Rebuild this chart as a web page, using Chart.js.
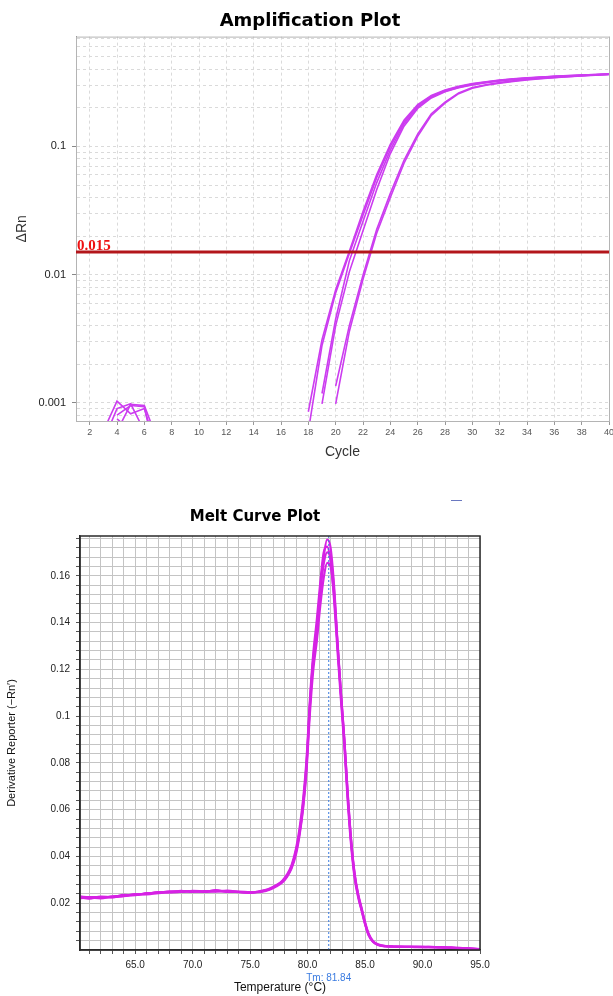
<!DOCTYPE html>
<html>
<head>
<meta charset="utf-8">
<title>Amplification / Melt Curve</title>
<script src="https://cdn.jsdelivr.net/npm/chart.js@4.4.0/dist/chart.umd.min.js"></script>
<style>
  html, body { margin: 0; background: #fff; overflow: hidden; }
  body { width: 613px; height: 996px; position: relative; }
  #ampBox { position: absolute; left: 0; top: 0; width: 620px; height: 470px; }
  #meltBox { position: absolute; left: 0; top: 496px; width: 510px; height: 500px; }
  #mark { position: absolute; left: 451px; top: 500px; width: 11px; height: 1px; background: #6a78c0; }
</style>
</head>
<body>
<div id="ampBox"><canvas id="amp" width="620" height="470"></canvas></div>
<div id="meltBox"><canvas id="melt" width="510" height="500"></canvas></div>
<div id="mark"></div>
<script>
// ---- Amplification plot data (delta Rn per cycle, null = not plotted) ----
var cycles = [1, 2, 3, 4, 5, 6, 7, 8, 9, 10, 11, 12, 13, 14, 15, 16, 17, 18, 19, 20,
              21, 22, 23, 24, 25, 26, 27, 28, 29, 30, 31, 32, 33, 34, 35, 36, 37, 38, 39, 40];
var cycleTicks = [2, 4, 6, 8, 10, 12, 14, 16, 18, 20, 22, 24, 26, 28, 30, 32, 34, 36, 38, 40];

var wellA1 = [null, null, 0.0006, 0.00103, 0.00082, 0.0009, 0.0004, null, null, null,
              null, null, null, null, null, null, null, 0.00085, 0.0031, 0.0076,
              0.0152, 0.031, 0.060, 0.104, 0.160, 0.212, 0.250, 0.276, 0.295, 0.310,
              0.320, 0.330, 0.337, 0.343, 0.348, 0.353, 0.357, 0.361, 0.364, 0.368];
var wellA2 = [null, null, null, 0.0006, 0.00097, 0.00095, 0.0005, null, null, null,
              null, null, null, null, null, null, null, 0.0006, 0.0028, 0.0072,
              0.0146, 0.029, 0.057, 0.100, 0.155, 0.208, 0.247, 0.273, 0.292, 0.307,
              0.318, 0.328, 0.336, 0.342, 0.347, 0.352, 0.356, 0.360, 0.364, 0.369];
var wellB1 = [null, null, 0.0005, 0.0009, 0.00098, 0.0006, null, null, null, null,
              null, null, null, null, null, null, null, null, 0.00118, 0.0045,
              0.0128, 0.026, 0.052, 0.094, 0.150, 0.203, 0.243, 0.270, 0.289, 0.304,
              0.316, 0.326, 0.334, 0.340, 0.346, 0.351, 0.355, 0.359, 0.363, 0.367];
var wellB2 = [null, null, null, 0.0008, 0.00095, 0.00093, 0.0003, null, null, null,
              null, null, null, null, null, null, null, null, 0.00098, 0.0040,
              0.0105, 0.022, 0.046, 0.088, 0.144, 0.198, 0.239, 0.267, 0.287, 0.302,
              0.315, 0.325, 0.333, 0.339, 0.345, 0.350, 0.354, 0.358, 0.362, 0.366];
var wellC1 = [null, null, null, 0.00075, 0.0006, null, null, null, null, null,
              null, null, null, null, null, null, null, null, null, 0.00098,
              0.0036, 0.0092, 0.021, 0.040, 0.074, 0.120, 0.175, 0.218, 0.258, 0.285,
              0.300, 0.312, 0.322, 0.331, 0.338, 0.344, 0.350, 0.355, 0.360, 0.364];
var wellC2 = [null, null, null, null, null, null, null, null, null, null,
              null, null, null, null, null, null, null, null, null, 0.00135,
              0.0040, 0.0099, 0.0225, 0.043, 0.078, 0.125, 0.180, 0.222, 0.262, 0.289,
              0.303, 0.315, 0.325, 0.333, 0.340, 0.346, 0.351, 0.356, 0.361, 0.365];
var ampWells = [wellA1, wellA2, wellB1, wellB2, wellC1, wellC2];
var threshold = 0.015;
var ampMin = 0.00072, ampMax = 0.72;

// ---- Melt curve data ----
var meltTemps = [60.2, 61, 62, 63, 64, 65, 66, 67, 68, 69, 70, 71, 72, 73, 74, 75,
                 75.7, 76.3, 76.8, 77.3, 77.8, 78.2, 78.6, 79.0, 79.3, 79.6, 79.9, 80.2, 80.5, 80.8,
                 81.1, 81.4, 81.7, 82.0, 82.3, 82.6, 82.9, 83.2, 83.5, 83.8, 84.1, 84.4, 84.7, 85.0,
                 85.3, 85.7, 86.2, 86.8, 87.5, 88.5, 89.5, 90.5, 91.5, 92.5, 93.5, 94.3, 95.0];
var melt1 = [0.0226, 0.0222, 0.0224, 0.0227, 0.0233, 0.0236, 0.0241, 0.0246, 0.0249, 0.0251, 0.0250, 0.0249, 0.0254, 0.0251, 0.0247, 0.0246,
             0.0248, 0.0254, 0.0262, 0.0275, 0.0292, 0.0315, 0.0352, 0.0420, 0.0500, 0.0610, 0.0780, 0.1040, 0.1240, 0.1340,
             0.1540, 0.1680, 0.1755, 0.1720, 0.1560, 0.1320, 0.1100, 0.0900, 0.0660, 0.0460, 0.0320, 0.0235, 0.0175, 0.0115,
             0.0068, 0.0036, 0.0021, 0.0016, 0.0014, 0.0013, 0.0013, 0.0012, 0.0011, 0.0009, 0.0007, 0.0005, 0.0004];
var melt2 = [0.0222, 0.0225, 0.0221, 0.0229, 0.0231, 0.0239, 0.0238, 0.0244, 0.0251, 0.0248, 0.0253, 0.0251, 0.0250, 0.0254, 0.0249, 0.0244,
             0.0250, 0.0256, 0.0265, 0.0278, 0.0296, 0.0322, 0.0362, 0.0435, 0.0520, 0.0640, 0.0810, 0.1070, 0.1270, 0.1410,
             0.1570, 0.1700, 0.1725, 0.1660, 0.1500, 0.1280, 0.1070, 0.0870, 0.0630, 0.0440, 0.0305, 0.0225, 0.0168, 0.0110,
             0.0064, 0.0034, 0.0020, 0.0015, 0.0014, 0.0014, 0.0012, 0.0013, 0.0012, 0.0010, 0.0008, 0.0006, 0.0004];
var melt3 = [0.0229, 0.0226, 0.0226, 0.0225, 0.0236, 0.0234, 0.0243, 0.0243, 0.0247, 0.0253, 0.0248, 0.0252, 0.0252, 0.0248, 0.0250, 0.0247,
             0.0247, 0.0252, 0.0260, 0.0272, 0.0289, 0.0312, 0.0348, 0.0410, 0.0490, 0.0600, 0.0760, 0.1010, 0.1200, 0.1320,
             0.1470, 0.1590, 0.1655, 0.1640, 0.1520, 0.1310, 0.1100, 0.0900, 0.0665, 0.0465, 0.0325, 0.0240, 0.0180, 0.0120,
             0.0072, 0.0038, 0.0023, 0.0017, 0.0015, 0.0013, 0.0014, 0.0012, 0.0012, 0.0010, 0.0007, 0.0006, 0.0003];
var melt4 = [0.0224, 0.0220, 0.0228, 0.0226, 0.0230, 0.0237, 0.0240, 0.0248, 0.0246, 0.0249, 0.0252, 0.0248, 0.0256, 0.0249, 0.0248, 0.0245,
             0.0249, 0.0255, 0.0263, 0.0276, 0.0294, 0.0318, 0.0356, 0.0425, 0.0505, 0.0620, 0.0790, 0.1050, 0.1250, 0.1380,
             0.1530, 0.1650, 0.1700, 0.1680, 0.1540, 0.1310, 0.1090, 0.0890, 0.0650, 0.0455, 0.0315, 0.0232, 0.0172, 0.0112,
             0.0066, 0.0035, 0.0021, 0.0016, 0.0015, 0.0014, 0.0013, 0.0013, 0.0011, 0.0010, 0.0008, 0.0005, 0.0004];
var meltWells = [melt1, melt2, melt3, melt4];
var tmValue = 81.84;
var meltYMax = 0.177;

var ampColor = 'rgb(204, 60, 240)';
var meltColor = 'rgb(214, 34, 228)';

function isDecade(v) {
    var l = Math.log10(v);
    return Math.abs(l - Math.round(l)) < 1e-9;
}

// empty right-hand axis, only used to keep space on the right
function spacerAxis(w) {
    return {
        position: 'right',
        display: true,
        afterFit: function(scale) { scale.width = w; },
        grid: { display: false, drawTicks: false },
        ticks: { display: false },
        border: { display: false }
    };
}

// draws the grey box round the plot area and the threshold value
var ampExtras = {
    id: 'ampExtras',
    beforeDatasetsDraw: function(chart) {
        var a = chart.chartArea, ctx = chart.ctx;
        ctx.save();
        ctx.strokeStyle = '#b4b4b4';
        ctx.lineWidth = 1;
        ctx.strokeRect(a.left + 0.5, a.top + 0.5, a.right - a.left, a.bottom - a.top);
        ctx.restore();
    },
    afterDatasetsDraw: function(chart) {
        var ctx = chart.ctx;
        var y = chart.scales.y.getPixelForValue(threshold);
        ctx.save();
        ctx.fillStyle = '#ee1111';
        ctx.font = 'bold 15px "Liberation Serif"';
        ctx.textBaseline = 'alphabetic';
        ctx.fillText(threshold.toString(), chart.chartArea.left + 1, y - 2);
        ctx.restore();
    }
};

var meltExtras = {
    id: 'meltExtras',
    afterDraw: function(chart) {
        var a = chart.chartArea, ctx = chart.ctx;
        ctx.save();
        ctx.strokeStyle = '#2a2a2a';
        ctx.lineWidth = 1.5;
        ctx.strokeRect(a.left, a.top, a.right - a.left, a.bottom - a.top);
        var x = chart.scales.x.getPixelForValue(tmValue);
        ctx.fillStyle = '#3a7be0';
        ctx.font = '10px "Liberation Sans"';
        ctx.textAlign = 'center';
        ctx.textBaseline = 'middle';
        ctx.fillText('Tm: ' + tmValue.toFixed(2), x, 482);
        ctx.restore();
    }
};

// ---- Amplification chart ----
var ampSets = [{
    data: [{x: cycles[0], y: threshold}, {x: cycles[cycles.length - 1], y: threshold}],
    borderColor: '#b3161b',
    borderWidth: 3,
    pointRadius: 0
}];
ampWells.forEach(function(w) {
    ampSets.push({
        data: cycles.map(function(c, i) { return {x: c, y: w[i]}; }),
        borderColor: ampColor,
        borderWidth: 1.6,
        pointRadius: 0,
        tension: 0
    });
});

new Chart(document.getElementById('amp').getContext('2d'), {
    type: 'line',
    data: { datasets: ampSets },
    plugins: [ampExtras],
    options: {
        responsive: false,
        animation: false,
        layout: { padding: 0 },
        plugins: {
            legend: { display: false },
            tooltip: { enabled: false },
            title: {
                display: true,
                text: 'Amplification Plot',
                color: '#000',
                font: { family: 'DejaVu Sans', size: 18, weight: 'bold' },
                padding: { top: 11, bottom: 4 }
            }
        },
        scales: {
            x: {
                type: 'linear',
                min: 1,
                max: 40,
                afterBuildTicks: function(scale) {
                    scale.ticks = cycleTicks.map(function(v) { return {value: v}; });
                },
                afterFit: function(scale) { scale.height = 49; },
                ticks: {
                    autoSkip: false,
                    maxRotation: 0,
                    padding: 2,
                    color: '#555',
                    font: { family: 'Liberation Sans', size: 9 }
                },
                grid: { color: '#dadada', tickLength: 4, tickColor: '#999' },
                border: { color: '#8a8a8a', dash: [3, 3] },
                title: {
                    display: true,
                    text: 'Cycle',
                    color: '#333',
                    font: { family: 'Liberation Sans', size: 14 },
                    padding: { top: 0, bottom: 9 }
                }
            },
            y: {
                type: 'logarithmic',
                min: ampMin,
                max: ampMax,
                afterBuildTicks: function(scale) {
                    var t = [];
                    for (var e = -4; e <= -1; e++) {
                        for (var s = 1; s <= 9; s++) {
                            var v = parseFloat((s * Math.pow(10, e)).toPrecision(3));
                            if (v >= ampMin && v <= ampMax) t.push({value: v});
                        }
                    }
                    scale.ticks = t;
                },
                afterFit: function(scale) { scale.width = 76; },
                ticks: {
                    autoSkip: false,
                    padding: 6,
                    color: '#222',
                    font: { family: 'Liberation Sans', size: 11 },
                    callback: function(v) { return isDecade(v) ? v.toString() : ''; }
                },
                grid: {
                    color: '#dadada',
                    tickLength: 4,
                    tickColor: function(ctx) { return ctx.tick && isDecade(ctx.tick.value) ? '#888' : 'rgba(0,0,0,0)'; }
                },
                border: { color: '#8a8a8a', dash: [3, 3] },
                title: {
                    display: true,
                    text: 'ΔRn',
                    color: '#333',
                    font: { family: 'Liberation Sans', size: 14 },
                    padding: { top: 14, bottom: 0 }
                }
            },
            yRight: spacerAxis(11)
        }
    }
});

// ---- Melt curve chart ----
var meltSets = [{
    data: [{x: tmValue, y: 0}, {x: tmValue, y: meltYMax}],
    borderColor: '#3a7be0',
    borderWidth: 1,
    borderDash: [2, 2],
    pointRadius: 0
}];
meltWells.forEach(function(w) {
    meltSets.push({
        data: meltTemps.map(function(t, i) { return {x: t, y: w[i]}; }),
        borderColor: meltColor,
        borderWidth: 2.2,
        pointRadius: 0,
        cubicInterpolationMode: 'monotone'
    });
});

new Chart(document.getElementById('melt').getContext('2d'), {
    type: 'line',
    data: { datasets: meltSets },
    plugins: [meltExtras],
    options: {
        responsive: false,
        animation: false,
        layout: { padding: 0 },
        plugins: {
            legend: { display: false },
            tooltip: { enabled: false },
            title: {
                display: true,
                text: 'Melt Curve Plot',
                color: '#000',
                font: { family: 'DejaVu Sans', size: 15, weight: 'bold' },
                padding: { top: 12, bottom: 10 }
            }
        },
        scales: {
            x: {
                type: 'linear',
                min: 60.2,
                max: 95,
                afterBuildTicks: function(scale) {
                    var t = [];
                    for (var v = 61; v <= 95; v++) t.push({value: v});
                    scale.ticks = t;
                },
                afterFit: function(scale) { scale.height = 46; },
                ticks: {
                    autoSkip: false,
                    maxRotation: 0,
                    padding: 5,
                    color: '#222',
                    font: { family: 'Liberation Sans', size: 10 },
                    callback: function(v) { return v % 5 === 0 ? v.toFixed(1) : ''; }
                },
                grid: { color: '#c4c4c4', tickLength: 4, tickColor: '#555' },
                border: { color: '#2a2a2a', width: 1.5 },
                title: {
                    display: true,
                    text: 'Temperature (°C)',
                    color: '#111',
                    font: { family: 'Liberation Sans', size: 12 },
                    padding: { top: 0, bottom: 1 }
                }
            },
            y: {
                type: 'linear',
                min: 0,
                max: meltYMax,
                afterBuildTicks: function(scale) {
                    var t = [];
                    for (var k = 1; k <= 44; k++) t.push({value: Math.round(k * 4) / 1000});
                    scale.ticks = t;
                },
                afterFit: function(scale) { scale.width = 80; },
                ticks: {
                    autoSkip: false,
                    padding: 6,
                    color: '#222',
                    font: { family: 'Liberation Sans', size: 10 },
                    callback: function(v) {
                        var r = Math.round(v * 1000);
                        return r % 20 === 0 ? (r / 1000).toString() : '';
                    }
                },
                grid: { color: '#c4c4c4', tickLength: 4, tickColor: '#555' },
                border: { color: '#2a2a2a', width: 1.5 },
                title: {
                    display: true,
                    text: 'Derivative Reporter (−Rn′)',
                    color: '#111',
                    font: { family: 'Liberation Sans', size: 11 },
                    padding: { top: 5, bottom: 0 }
                }
            },
            yRight: spacerAxis(30)
        }
    }
});
</script>
</body>
</html>
